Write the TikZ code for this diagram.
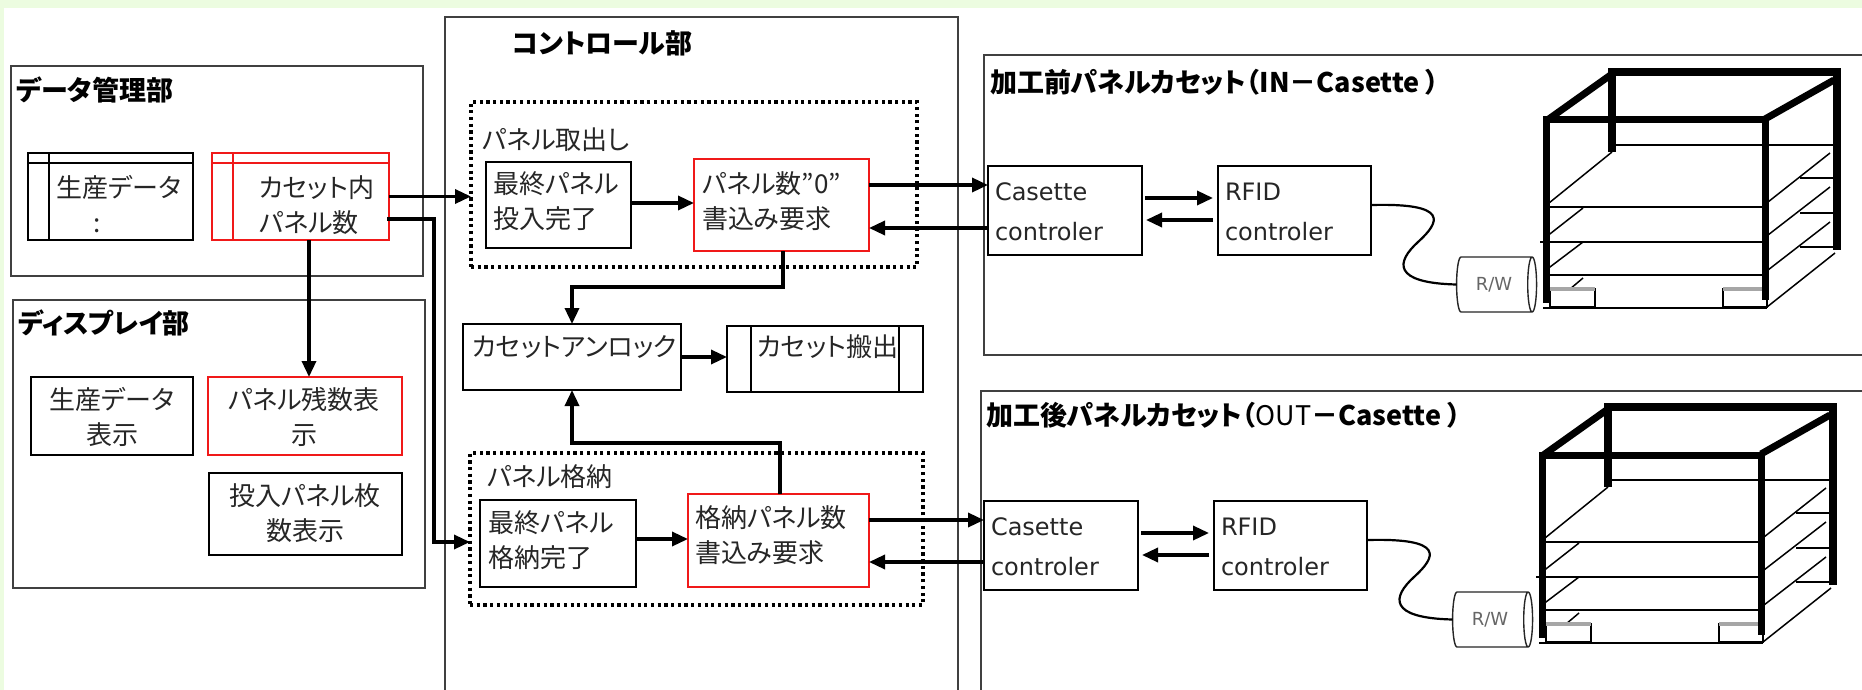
\documentclass[tikz,border=0pt]{standalone}
\usepackage{fontspec}
\newfontfamily\jp[RawFeature=+palt]{Noto Sans CJK JP}
\newfontfamily\lat{DejaVu Sans}
\usetikzlibrary{arrows.meta,calc,shapes.geometric}
\definecolor{bggreen}{RGB}{236,252,224}
\definecolor{boxred}{RGB}{240,25,25}

% one cassette station: controllers, reader/writer and the rack drawing
\newcommand\cassetteunit[1]{%
  \node[plainbox, minimum width=154, minimum height=89] (#1-cc) at (988,166) {};
  \node[ltxt, align=left, anchor=west] (#1-cct) at (995,212) {Casette\\controler};
  \node[plainbox, minimum width=153, minimum height=89] (#1-rf) at (1218,166) {};
  \node[ltxt, align=left, anchor=west] (#1-rft) at (1225,212) {RFID\\controler};
  \draw[flowarrow] ($(#1-cc.east)+(3,-12.5)$) -- ($(#1-rf.west)+(-5,-12.5)$);
  \draw[flowarrow] ($(#1-rf.west)+(-5,9.5)$) -- ($(#1-cc.east)+(4,9.5)$);
  \node[cylinder, draw=black!85, line width=1.4pt, shape border rotate=0, aspect=0.6,
        minimum height=80, minimum width=55, font=\lat\fontsize{18}{18}\selectfont,
        text=black!60] (#1-rw) at (1494,284.5) {R/W};
  \draw[line width=2.2pt] ($(#1-rf.east)+(1,-5.5)$) .. controls (1450,203) and (1440,222) .. (1418,242)
        .. controls (1396,262) and (1392,283) .. (#1-rw.west);
  % rack: shelves and hidden edges
  \draw[cubethin] (1612,145) -- (1840,145);
  \draw[cubethin] (1549,203) -- (1612,152);
  \draw[cubethin] (1546,207) -- (1765,207);
  \draw[cubethin] (1540,242) -- (1765,242);
  \draw[cubethin] (1546,275) -- (1765,275);
  \draw[cubethin] (1543,308) -- (1767,308);
  \draw[cubethin] (1546,237) -- (1583,208);
  \draw[cubethin] (1546,270) -- (1583,242);
  \draw[cubethin] (1570,289) -- (1583,278);
  \draw[cubethin] (1768,202) -- (1830,153);
  \draw[cubethin] (1768,235) -- (1830,187);
  \draw[cubethin] (1768,270) -- (1830,222);
  \draw[cubethin] (1767,307) -- (1835,253);
  \draw[cubethin] (1800,178) -- (1840,178);
  \draw[cubethin] (1800,213) -- (1840,213);
  \draw[cubethin] (1800,247) -- (1840,247);
  % feet
  \draw[line width=1.2pt, fill=white] (1550,289) rectangle (1595,307);
  \fill[black!35] (1550,287) rectangle (1595,291);
  \draw[line width=1.2pt, fill=white] (1723,289) rectangle (1767,307);
  \fill[black!35] (1723,287) rectangle (1767,291);
  % rack: heavy frame
  \draw[cubeheavy, line width=8.5pt] (1612,152) -- (1612,72) -- (1837,72) -- (1837,250);
  \draw[cubeheavy] (1546,303) -- (1546,120) -- (1765,120) -- (1765,300);
  \draw[cubeheavy] (1546,121) -- (1612,74);
  \draw[cubeheavy] (1765,119) -- (1834,80);
}

\begin{document}
\begin{tikzpicture}[x=1pt,y=-1pt,
  every node/.style={inner sep=0pt, outer sep=0pt},
  secframe/.style={draw=black!75, line width=1.8pt, anchor=north west},
  plainbox/.style={draw=black, line width=2pt, anchor=north west},
  redbox/.style={draw=boxred, line width=2pt, anchor=north west},
  dotbox/.style={draw=black, line width=3.2pt, dash pattern=on 3.2pt off 3.5pt, anchor=north west},
  ttl/.style={font=\jp\bfseries\fontsize{27}{30}\selectfont, anchor=west},
  jtxt/.style={font=\jp\fontsize{26}{35}\selectfont, text=black!85},
  ltxt/.style={font=\lat\fontsize{24}{40}\selectfont, text=black!85},
  flowarrow/.style={line width=3.4pt, -{Triangle[length=16pt,width=14pt]}},
  cubethin/.style={line width=1.5pt},
  cubeheavy/.style={line width=7pt, line join=miter, line cap=butt},
]
\useasboundingbox (0,0) rectangle (1862,690);
\clip (0,0) rectangle (1862,690);
\fill[white] (0,0) rectangle (1862,690);
\fill[bggreen] (0,0) rectangle (1862,8);
\fill[bggreen] (0,0) rectangle (4,690);

% ---- data management section
\node[secframe, minimum width=412, minimum height=210] (dm) at (11,66) {};
\node[ttl] (dm-title) at (16,90) {データ管理部};
\node[plainbox, minimum width=165, minimum height=87] (seisan) at (28,153) {};
\draw[line width=2pt] ($(seisan.north west)+(21,0)$) -- ($(seisan.south west)+(21,0)$);
\draw[line width=2pt] ($(seisan.north west)+(0,10)$) -- ($(seisan.north east)+(0,10)$);
\node[jtxt] (seisan-t) at (119,187) {生産データ};
\node[jtxt] (seisan-c) at (97,226) {:};
\node[redbox, minimum width=177, minimum height=87] (cnt) at (212,153) {};
\draw[boxred, line width=2pt] ($(cnt.north west)+(21,0)$) -- ($(cnt.south west)+(21,0)$);
\draw[boxred, line width=2pt] ($(cnt.north west)+(0,10)$) -- ($(cnt.north east)+(0,10)$);
\node[jtxt, align=left, anchor=west] (cnt-t) at (259,205) {カセット内\\パネル数};

% ---- display section
\node[secframe, minimum width=412, minimum height=288] (disp) at (13,300) {};
\node[ttl] (disp-title) at (18,323) {ディスプレイ部};
\node[plainbox, minimum width=162, minimum height=78] (sdisp) at (31,377) {};
\node[jtxt, align=center] (sdisp-t) at (112,417) {生産データ\\表示};
\node[redbox, line width=2.6pt, minimum width=194, minimum height=78] (zan) at (208,377) {};
\node[jtxt, align=center] (zan-t) at (304,417) {パネル残数表\\示};
\node[plainbox, minimum width=193, minimum height=82] (tonyu) at (209,473) {};
\node[jtxt, align=center] (tonyu-t) at (305,513) {投入パネル枚\\数表示};

% ---- control section
\node[secframe, minimum width=513, minimum height=720] (ctl) at (445,17) {};
\node[ttl] (ctl-title) at (512,43) {コントロール部};
\node[dotbox, minimum width=446, minimum height=165] (take) at (471,102) {};
\node[jtxt, anchor=west] (take-t) at (482,140) {パネル取出し};
\node[plainbox, minimum width=145, minimum height=86] (last1) at (486,162) {};
\node[jtxt, align=left, anchor=west] (last1-t) at (493,201) {最終パネル\\投入完了};
\node[redbox, minimum width=175, minimum height=92] (req1) at (694,159) {};
\node[jtxt, align=left, anchor=west] (req1-t) at (702,201) {パネル数”0”\\書込み要求};
\node[plainbox, minimum width=218, minimum height=66] (unlock) at (463,324) {};
\node[jtxt, anchor=west] (unlock-t) at (472,347) {カセットアンロック};
\node[plainbox, minimum width=196, minimum height=66] (carry) at (727,326) {};
\draw[line width=2pt] ($(carry.north west)+(24,0)$) -- ($(carry.south west)+(24,0)$);
\draw[line width=2pt] ($(carry.north east)+(-24,0)$) -- ($(carry.south east)+(-24,0)$);
\node[jtxt, anchor=west] (carry-t) at (757,347) {カセット搬出};
\node[dotbox, minimum width=453, minimum height=152] (store) at (470,453) {};
\node[jtxt, anchor=west] (store-t) at (487,477) {パネル格納};
\node[plainbox, minimum width=156, minimum height=87] (last2) at (480,500) {};
\node[jtxt, align=left, anchor=west] (last2-t) at (488,540) {最終パネル\\格納完了};
\node[redbox, minimum width=181, minimum height=93] (req2) at (688,494) {};
\node[jtxt, align=left, anchor=west] (req2-t) at (695,535) {格納パネル数\\書込み要求};

% ---- cassette sections
\node[secframe, minimum width=950, minimum height=300] (inbox) at (984,55) {};
\node[ttl] (in-title) at (990,82) {加工前パネルカセット（IN－Casette ）};
\node[secframe, minimum width=950, minimum height=400] (outbox) at (981,391) {};
\node[ttl] (out-title) at (986,415) {加工後パネルカセット（{\mdseries OUT}－Casette ）};
\begin{scope}
  \cassetteunit{in}
\end{scope}
\begin{scope}[shift={(-4,335)}]
  \cassetteunit{out}
\end{scope}

% ---- connectors
\draw[flowarrow] (cnt.east) -- (cnt.east -| take.west);
\draw[flowarrow] ($(cnt.east)+(-2,22.5)$) -- ++(47,0) |- ($(store.west)+(0,13)$);
\draw[flowarrow] ($(cnt.south)+(8.5,0)$) coordinate (dn) -- (dn |- zan.north);
\draw[flowarrow] ($(last1.east)+(0,-2)$) coordinate (a1) -- (a1 -| req1.west);
\draw[flowarrow] ($(req1.east)+(0,-20)$) coordinate (o1) -- (o1 -| in-cc.west);
\coordinate (b1) at ($(req1.east)+(0,23)$);
\draw[flowarrow] (b1 -| in-cc.west) -- (b1);
\draw[flowarrow] ($(req1.south)+(1.5,0)$) -- ++(0,36) -| (unlock.north);
\draw[flowarrow] (unlock.east) -- (unlock.east -| carry.west);
\draw[flowarrow] ($(req2.north)+(1.5,0)$) -- ++(0,-51) -| (unlock.south);
\draw[flowarrow] ($(last2.east)+(0,-4.5)$) coordinate (a2) -- (a2 -| req2.west);
\draw[flowarrow] ($(req2.east)+(0,-20.5)$) coordinate (o2) -- (o2 -| out-cc.west);
\coordinate (b2) at ($(req2.east)+(0,21.5)$);
\draw[flowarrow] (b2 -| out-cc.west) -- (b2);
\end{tikzpicture}
\end{document}
